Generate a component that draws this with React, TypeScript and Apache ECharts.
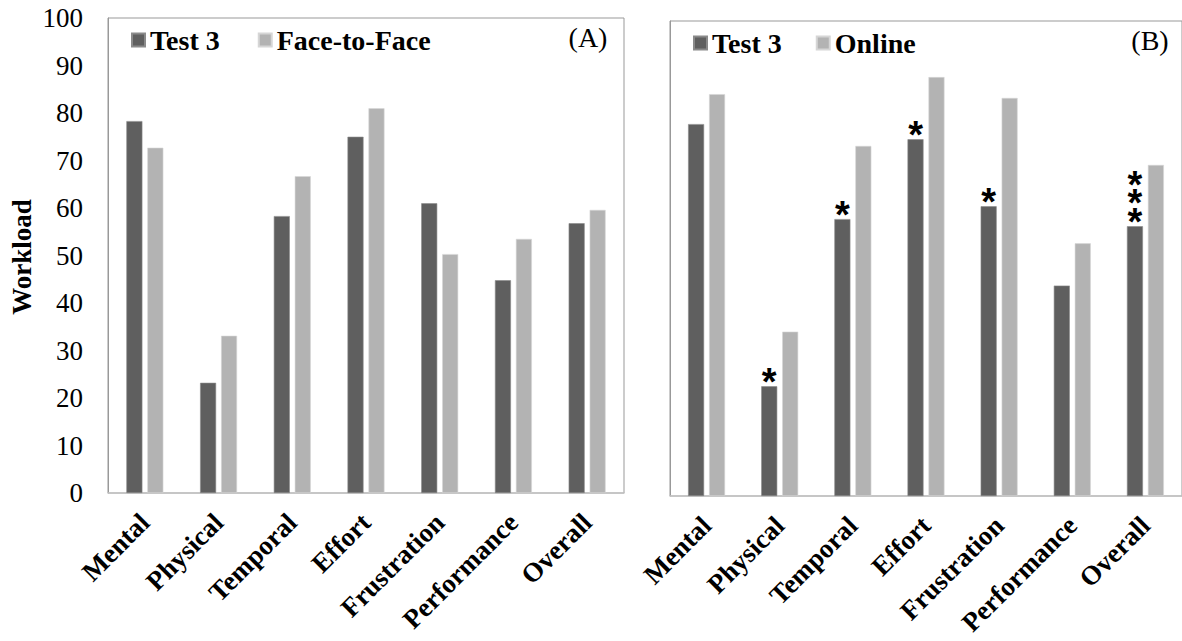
import React, { useEffect, useRef } from "react";
import * as echarts from "echarts";

const categories = ["Mental", "Physical", "Temporal", "Effort", "Frustration", "Performance", "Overall"];
const test3A = [78.3, 23.2, 58.3, 75.0, 61.0, 44.8, 56.8];
const faceToFace = [72.7, 33.1, 66.7, 81.0, 50.3, 53.5, 59.6];
const test3B = [78.3, 23.1, 58.3, 75.1, 61.0, 44.3, 56.8];
const online = [84.6, 34.6, 73.7, 88.2, 83.8, 53.2, 69.7];
const marksB = ["", "*", "*", "*", "*", "", "*\n*\n*"];
const yTicks = { min: 0, max: 100, interval: 10 };

const SERIF = "Liberation Serif, Times New Roman, serif";
const DARK = "#5f5f5f";
const LIGHT = "#b3b3b3";

export default function App() {
  const ref = useRef<HTMLDivElement>(null);
  useEffect(() => {
    document.body.style.margin = "0";
    const chart = echarts.init(ref.current!, null, { renderer: "svg" });
    const xAxisCommon = {
      type: "category",
      data: categories,
      axisTick: { show: false },
      axisLine: { lineStyle: { color: "#c4c4c4", width: 1.5 } },
      axisLabel: {
        rotate: 45,
        margin: 25,
        interval: 0,
        color: "#000",
        fontFamily: SERIF,
        fontWeight: "bold",
        fontSize: 27,
      },
    };
    const barCommon = {
      type: "bar",
      barWidth: 16,
      barGap: "31%",
    };
    const legendText = { fontFamily: SERIF, fontWeight: "bold", fontSize: 28, color: "#000" };
    chart.setOption({
      animation: false,
      backgroundColor: "#fff",
      grid: [
        { left: 108, top: 18, width: 516, height: 475, show: true, borderColor: "#999", borderWidth: 1, backgroundColor: "transparent" },
        { left: 670, top: 21, width: 516, height: 475, show: true, borderColor: "#999", borderWidth: 1, backgroundColor: "transparent" },
      ],
      legend: [
        {
          left: 131,
          top: 26,
          padding: 0,
          itemWidth: 13,
          itemHeight: 13,
          itemGap: 38,
          icon: "rect",
          data: ["Test 3", "Face-to-Face"],
          textStyle: legendText,
        },
        {
          left: 693,
          top: 29,
          padding: 0,
          itemWidth: 13,
          itemHeight: 13,
          itemGap: 34,
          icon: "rect",
          data: ["Test 3", "Online"],
          textStyle: legendText,
        },
      ],
      xAxis: [
        { ...xAxisCommon, gridIndex: 0 },
        { ...xAxisCommon, gridIndex: 1 },
      ],
      yAxis: [
        {
          type: "value",
          gridIndex: 0,
          ...yTicks,
          axisLine: { show: true, lineStyle: { color: "#999" } },
          axisTick: { show: false },
          splitLine: { show: false },
          axisLabel: { color: "#000", fontFamily: SERIF, fontSize: 27, margin: 25 },
        },
        {
          type: "value",
          gridIndex: 1,
          ...yTicks,
          axisLine: { show: true, lineStyle: { color: "#999" } },
          axisTick: { show: false },
          splitLine: { show: false },
          axisLabel: { show: false },
        },
      ],
      series: [
        { ...barCommon, name: "Test 3", xAxisIndex: 0, yAxisIndex: 0, data: test3A, itemStyle: { color: DARK, borderColor: "#8a8a8a", borderWidth: 0.6 } },
        { ...barCommon, name: "Face-to-Face", xAxisIndex: 0, yAxisIndex: 0, data: faceToFace, itemStyle: { color: LIGHT, borderColor: "#d6d6d6", borderWidth: 0.6 } },
        {
          ...barCommon,
          name: "Test 3",
          xAxisIndex: 1,
          yAxisIndex: 1,
          data: test3B,
          itemStyle: { color: DARK, borderColor: "#8a8a8a", borderWidth: 0.6 },
          label: {
            show: true,
            position: "top",
            distance: 0,
            offset: [0, 5],
            formatter: (p: any) => marksB[p.dataIndex],
            fontFamily: "Liberation Sans",
            fontWeight: "bold",
            fontSize: 38,
            lineHeight: 18.5,
            color: "#000",
          },
        },
        { ...barCommon, name: "Online", xAxisIndex: 1, yAxisIndex: 1, data: online, itemStyle: { color: LIGHT, borderColor: "#d6d6d6", borderWidth: 0.6 } },
      ],
      graphic: [
        {
          type: "text",
          x: 588,
          y: 37,
          style: { text: "(A)", fontFamily: SERIF, fontSize: 28, fill: "#000", align: "center", verticalAlign: "middle" },
        },
        {
          type: "text",
          x: 1150,
          y: 40,
          style: { text: "(B)", fontFamily: SERIF, fontSize: 28, fill: "#000", align: "center", verticalAlign: "middle" },
        },
        {
          type: "text",
          x: 22,
          y: 257,
          rotation: Math.PI / 2,
          style: {
            text: "Workload",
            fontFamily: SERIF,
            fontWeight: "bold",
            fontSize: 27,
            fill: "#000",
            align: "center",
            verticalAlign: "middle",
          },
        },
      ],
    });
    return () => chart.dispose();
  }, []);
  return <div ref={ref} style={{ width: 1182, height: 641 }} />;
}
